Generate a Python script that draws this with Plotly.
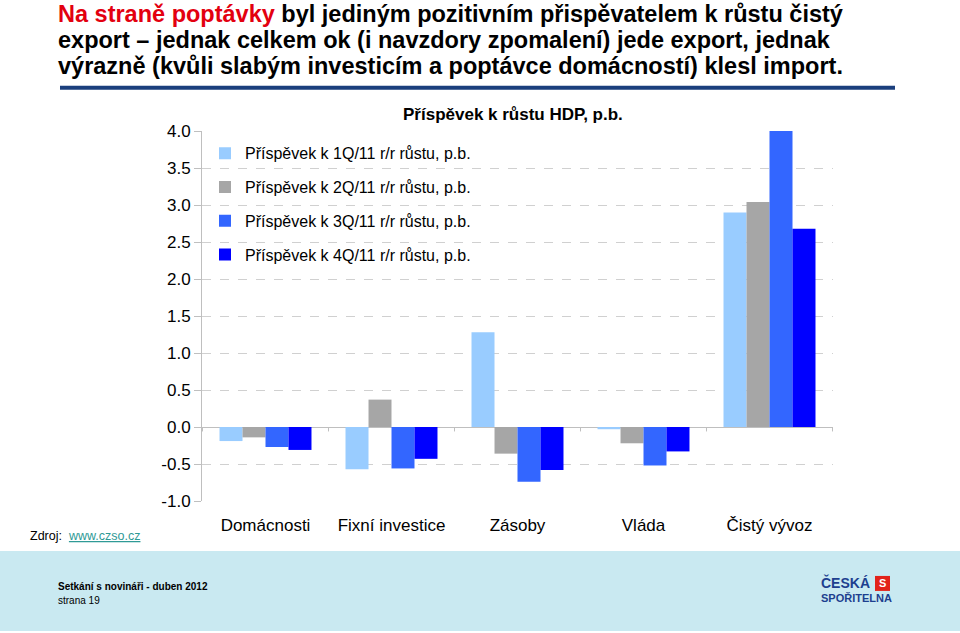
import plotly.graph_objects as go

categories = ["Domácnosti", "Fixní investice", "Zásoby", "Vláda", "Čistý vývoz"]
series_names = [
    "Příspěvek k 1Q/11 r/r růstu, p.b.",
    "Příspěvek k 2Q/11 r/r růstu, p.b.",
    "Příspěvek k 3Q/11 r/r růstu, p.b.",
    "Příspěvek k 4Q/11 r/r růstu, p.b.",
]
q1 = [-0.19, -0.57, 1.28, -0.03, 2.90]
q2 = [-0.14, 0.37, -0.36, -0.22, 3.04]
q3 = [-0.27, -0.56, -0.74, -0.52, 4.02]
q4 = [-0.31, -0.43, -0.58, -0.33, 2.68]
series_values = [q1, q2, q3, q4]
colors = ["#99ccff", "#a6a6a6", "#3366ff", "#0000ff"]
y_ticks = [-1.0, -0.5, 0.0, 0.5, 1.0, 1.5, 2.0, 2.5, 3.0, 3.5, 4.0]

W, H = 960, 633
L, R, T, B = 202, 833, 130.7, 501.0


def px(x):
    return (x - L) / (R - L)


def py(y):
    return (B - y) / (B - T)


fig = go.Figure()
for i, (name, vals, col) in enumerate(zip(series_names, series_values, colors)):
    fig.add_trace(go.Bar(x=categories, y=vals, name=name, marker=dict(color=col, line=dict(width=0)),
                         legendgroup=f"g{i}"))

shapes = []
# footer band
shapes.append(dict(type="rect", xref="paper", yref="paper", x0=px(0), x1=px(960), y0=py(631), y1=py(551),
                   fillcolor="#c9e9f1", line=dict(width=0), layer="below"))
# blue rule under title
shapes.append(dict(type="line", xref="paper", yref="paper", x0=px(60), x1=px(895), y0=py(87.5), y1=py(87.5),
                   line=dict(color="#1b3f7d", width=4)))
# category divider ticks on zero line
for k in range(len(categories) + 1):
    shapes.append(dict(type="line", xref="x", yref="y", x0=k - 0.5, x1=k - 0.5, y0=0, y1=-0.06,
                       line=dict(color="#bfbfbf", width=1)))
# logo icon
shapes.append(dict(type="rect", xref="paper", yref="paper", x0=px(875), x1=px(890), y0=py(591), y1=py(576),
                   fillcolor="#e2231a", line=dict(width=0)))

title_lines = [
    "<span style='color:#e3000f'>Na straně poptávky</span> byl jediným pozitivním přispěvatelem k růstu čistý",
    "export – jednak celkem ok (i navzdory zpomalení) jede export, jednak",
    "výrazně (kvůli slabým investicím a poptávce domácností) klesl import.",
]
annotations = []
for i, t in enumerate(title_lines):
    annotations.append(dict(text=f"<b>{t}</b>", xref="paper", yref="paper", x=px(56), y=py(14 + 26 * i),
                            xanchor="left", yanchor="middle", showarrow=False,
                            font=dict(family="Liberation Sans, Arial", size=23.5, color="#000000")))
annotations += [
    dict(text="<b>Příspěvek k růstu HDP, p.b.</b>", xref="paper", yref="paper", x=px(513), y=py(114),
         xanchor="center", yanchor="middle", showarrow=False,
         font=dict(family="Liberation Sans, Arial", size=17, color="#000000")),
    dict(text="Zdroj:  <span style='color:#2f9a96'><u>www.czso.cz</u></span>", xref="paper", yref="paper",
         x=px(28), y=py(536), xanchor="left", yanchor="middle", showarrow=False,
         font=dict(family="Liberation Sans, Arial", size=12.5, color="#000000")),
    dict(text="<b>Setkání s novináři - duben 2012</b>", xref="paper", yref="paper", x=px(56), y=py(587),
         xanchor="left", yanchor="middle", showarrow=False,
         font=dict(family="Liberation Sans, Arial", size=10, color="#000000")),
    dict(text="strana 19", xref="paper", yref="paper", x=px(56), y=py(601),
         xanchor="left", yanchor="middle", showarrow=False,
         font=dict(family="Liberation Sans, Arial", size=10, color="#000000")),
    dict(text="<b>ČESKÁ</b>", xref="paper", yref="paper", x=px(819), y=py(583),
         xanchor="left", yanchor="middle", showarrow=False,
         font=dict(family="Liberation Sans, Arial", size=14, color="#1d3f8f")),
    dict(text="<b>SPOŘITELNA</b>", xref="paper", yref="paper", x=px(819), y=py(598),
         xanchor="left", yanchor="middle", showarrow=False,
         font=dict(family="Liberation Sans, Arial", size=11, color="#1d3f8f")),
    dict(text="<b>S</b>", xref="paper", yref="paper", x=px(882.5), y=py(583.5),
         xanchor="center", yanchor="middle", showarrow=False,
         font=dict(family="Liberation Sans, Arial", size=11, color="#ffffff")),
]

fig.update_layout(
    width=W, height=H,
    margin=dict(l=L, r=W - R, t=T, b=H - B, pad=0),
    paper_bgcolor="white", plot_bgcolor="white",
    barmode="group", bargap=0.27, bargroupgap=0,
    font=dict(family="Liberation Sans, Arial", size=16, color="#000000"),
    showlegend=True,
    legend=dict(x=px(205), y=py(136), xanchor="left", yanchor="top", bgcolor="rgba(0,0,0,0)",
                font=dict(size=16), tracegroupgap=10, itemclick=False),
    shapes=shapes, annotations=annotations,
    xaxis=dict(showgrid=False, showline=False, ticks="outside", ticklen=9, tickcolor="rgba(0,0,0,0)",
               tickfont=dict(size=17), zeroline=False),
    yaxis=dict(range=[-1, 4], tickvals=y_ticks, ticktext=[f"{v:.1f}" for v in y_ticks],
               showgrid=True, gridcolor="#d0d0d0", griddash="dash", gridwidth=1,
               zeroline=True, zerolinecolor="#bfbfbf", zerolinewidth=1,
               showline=True, linecolor="#bfbfbf", linewidth=1,
               ticks="outside", ticklen=7, tickcolor="#bfbfbf", tickfont=dict(size=17)),
)

fig.write_html("out.html", config={"displayModeBar": False},
               post_script="document.body.style.margin='0';document.body.style.overflow='hidden';")
